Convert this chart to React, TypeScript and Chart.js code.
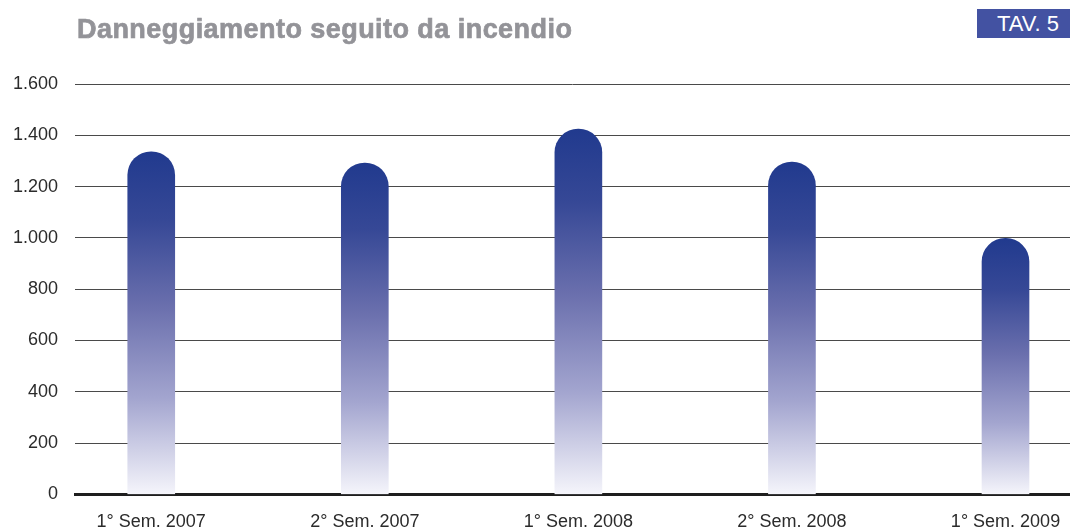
import React, { useEffect, useRef } from "react";
import { Chart, registerables } from "chart.js";

Chart.register(...registerables);

const TITLE = "Danneggiamento seguito da incendio";
const TABLE_TAG = "TAV. 5";
const categories = ["1° Sem. 2007", "2° Sem. 2007", "1° Sem. 2008", "2° Sem. 2008", "1° Sem. 2009"];
const values = [1336, 1292, 1424, 1296, 998];
const yTicks = [0, 200, 400, 600, 800, 1000, 1200, 1400, 1600];

const FONT = "'Liberation Sans', Arial, Helvetica, sans-serif";

function fmt(v: number): string {
  return String(Math.round(v)).replace(/\B(?=(\d{3})+(?!\d))/g, ".");
}

export default function App() {
  const ref = useRef<HTMLCanvasElement | null>(null);

  useEffect(() => {
    if (!ref.current) return;
    const chart = new Chart(ref.current, {
      type: "bar",
      data: {
        datasets: [
          {
            data: categories.map((c, i) => ({ x: i, y: values[i] })),
            barThickness: 47,
            borderSkipped: "start",
            borderRadius: { topLeft: 24, topRight: 24, bottomLeft: 0, bottomRight: 0 },
            backgroundColor: (ctx: any) => {
              const ch = ctx.chart;
              const { chartArea, scales } = ch;
              if (!chartArea || !scales.y || !ctx.raw) return "#3a4a9a";
              const top = scales.y.getPixelForValue(ctx.raw.y);
              const bottom = scales.y.getPixelForValue(0);
              const g = ch.ctx.createLinearGradient(0, top, 0, bottom);
              g.addColorStop(0, "#213a8e");
              g.addColorStop(0.2, "#364896");
              g.addColorStop(0.45, "#6a6fad");
              g.addColorStop(0.72, "#a3a5cf");
              g.addColorStop(1, "#f5f5fb");
              return g;
            },
          },
        ],
      },
      options: {
        animation: false,
        responsive: false,
        layout: { padding: { left: 13, right: 0, top: 84, bottom: 10 } },
        plugins: { legend: { display: false }, tooltip: { enabled: false }, title: { display: false } },
        scales: {
          x: {
            type: "linear",
            offset: false,
            min: -0.357,
            max: 4.302,
            z: 1,
            grid: { display: false, drawTicks: false, offset: false },
            border: { display: true, color: "#1e1e1e", width: 3 },
            afterBuildTicks: (scale: any) => {
              scale.ticks = categories.map((c, i) => ({ value: i }));
            },
            afterFit: (scale: any) => {
              scale.paddingLeft = 0;
              scale.paddingRight = 0;
            },
            ticks: {
              autoSkip: false,
              maxRotation: 0,
              padding: 17,
              color: "#2b2b2b",
              font: { family: FONT, size: 18 },
              callback: (v: any) => categories[Math.round(Number(v))] ?? "",
            },
          },
          y: {
            min: 0,
            max: 1600,
            afterBuildTicks: (scale: any) => {
              scale.ticks = yTicks.map((v) => ({ value: v }));
            },
            afterFit: (scale: any) => {
              scale.width = 62;
            },
            grid: { color: "#4a4a4a", lineWidth: 1, drawTicks: false },
            border: { display: false },
            ticks: {
              padding: 17,
              color: "#2b2b2b",
              font: { family: FONT, size: 18 },
              callback: (v: any) => fmt(Number(v)),
            },
          },
        },
      },
    } as any);
    return () => chart.destroy();
  }, []);

  return (
    <div
      style={{
        position: "fixed",
        left: 0,
        top: 0,
        width: 1070,
        height: 530,
        overflow: "hidden",
        background: "#ffffff",
      }}
    >
      <canvas ref={ref} width={1070} height={560} style={{ position: "absolute", left: 0, top: 0 }} />
      <div
        style={{
          position: "absolute",
          left: 77,
          top: 16,
          fontFamily: FONT,
          fontWeight: 700,
          fontSize: 27,
          lineHeight: "27px",
          letterSpacing: "0.45px",
          color: "#939398",
          WebkitTextStroke: "0.7px #939398",
          whiteSpace: "nowrap",
        }}
      >
        {TITLE}
      </div>
      <div
        style={{
          position: "absolute",
          left: 977,
          top: 9,
          width: 93,
          height: 29,
          background: "#4352a2",
          color: "#ffffff",
          fontFamily: FONT,
          fontSize: 22,
          lineHeight: "29px",
          paddingLeft: 20,
          boxSizing: "border-box",
          whiteSpace: "nowrap",
        }}
      >
        {TABLE_TAG}
      </div>
    </div>
  );
}
